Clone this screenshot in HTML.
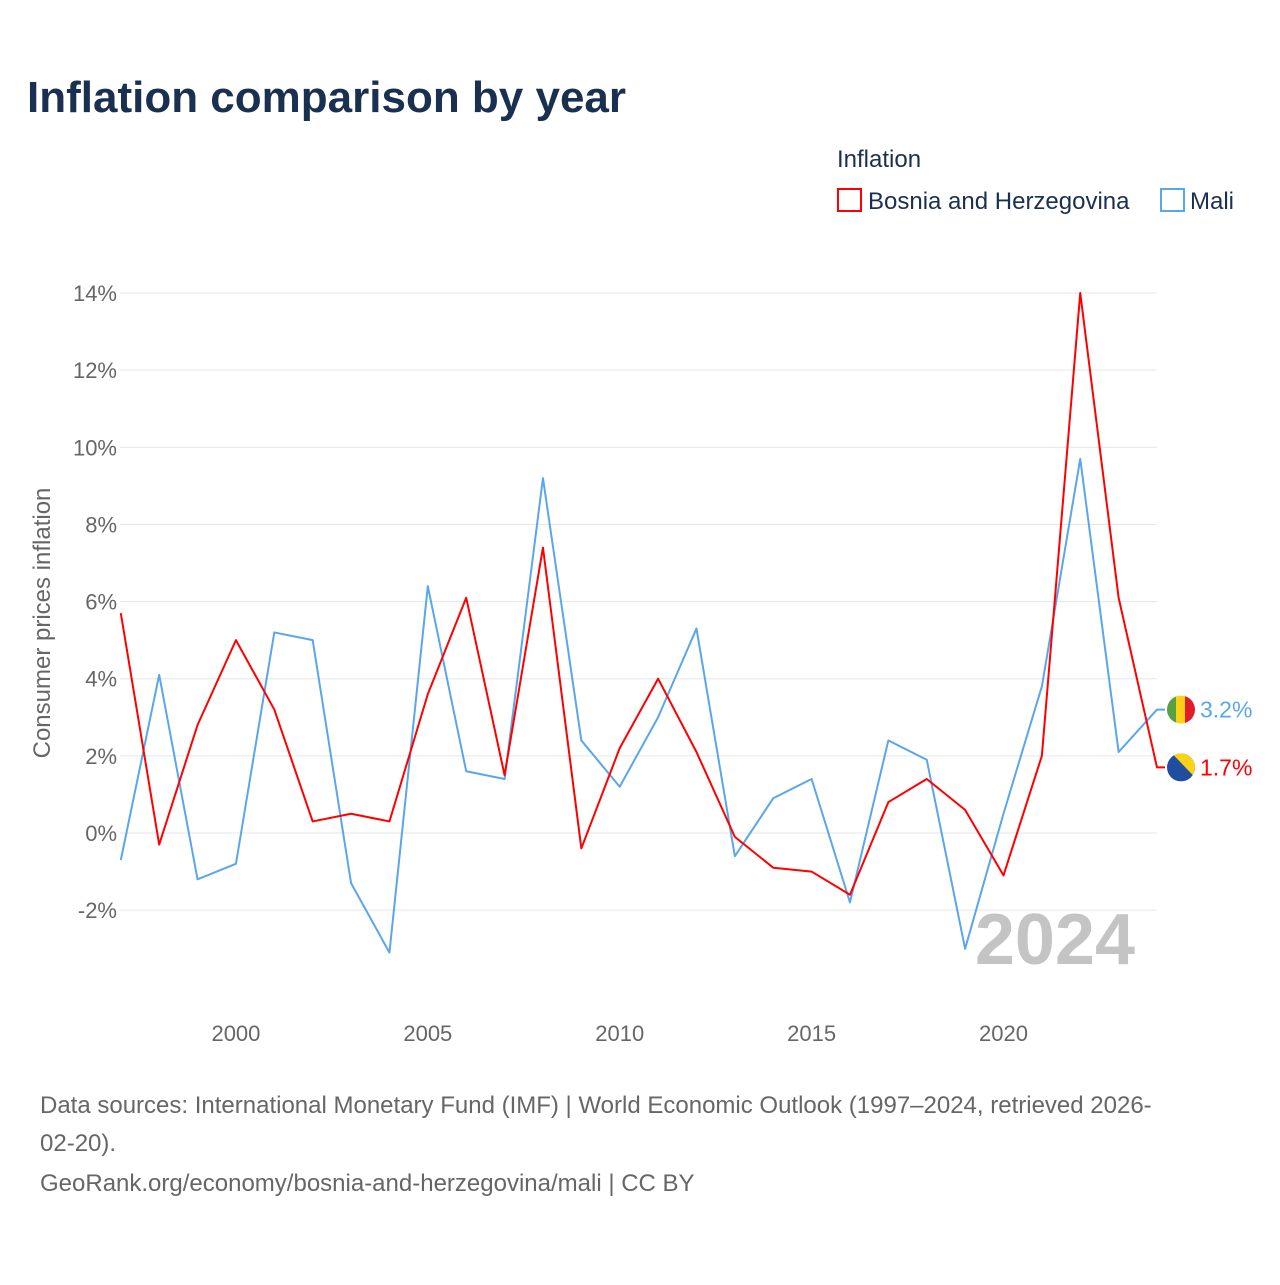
<!DOCTYPE html>
<html><head><meta charset="utf-8"><style>
body{margin:0;background:#fff;font-family:"Liberation Sans",sans-serif;}
svg text{font-family:"Liberation Sans",sans-serif;}
</style></head><body>
<svg id="c" width="1280" height="1280" viewBox="0 0 1280 1280">
<text x="27" y="112" font-size="44" font-weight="bold" fill="#1a3050">Inflation comparison by year</text>
<text x="837" y="167" font-size="24" fill="#1a3050">Inflation</text>
<g><rect x="838" y="189" width="23" height="22" fill="none" stroke="#f00" stroke-width="2"/><text x="868" y="209" font-size="24" fill="#1a3050">Bosnia and Herzegovina</text></g>
<g><rect x="1161" y="189" width="23" height="22" fill="none" stroke="#5ba6ea" stroke-width="2"/><text x="1190" y="209" font-size="24" fill="#1a3050">Mali</text></g>
<g id="grid"></g><g id="xt"></g><g id="lines"></g>
<text x="1135" y="964" font-size="72" font-weight="bold" fill="#c4c4c4" text-anchor="end">2024</text>
<text transform="translate(50,623) rotate(-90)" font-size="24" fill="#666" text-anchor="middle">Consumer prices inflation</text>
<g font-size="24" fill="#666">
<text x="40" y="1113">Data sources: International Monetary Fund (IMF) | World Economic Outlook (1997–2024, retrieved 2026-</text>
<text x="40" y="1151">02-20).</text>
<text x="40" y="1191">GeoRank.org/economy/bosnia-and-herzegovina/mali | CC BY</text></g>
</svg>
<script>
const years=[1997,1998,1999,2000,2001,2002,2003,2004,2005,2006,2007,2008,2009,2010,2011,2012,2013,2014,2015,2016,2017,2018,2019,2020,2021,2022,2023,2024];
const bosnia=[5.7,-0.3,2.8,5.0,3.2,0.3,0.5,0.3,3.6,6.1,1.5,7.4,-0.4,2.2,4.0,2.1,-0.1,-0.9,-1.0,-1.6,0.8,1.4,0.6,-1.1,2.0,14.0,6.1,1.7];
const mali=[-0.7,4.1,-1.2,-0.8,5.2,5.0,-1.3,-3.1,6.4,1.6,1.4,9.2,2.4,1.2,3.0,5.3,-0.6,0.9,1.4,-1.8,2.4,1.9,-3.0,0.5,3.8,9.7,2.1,3.2];
const yTicks=[-2,0,2,4,6,8,10,12,14];
const xTicks=[2000,2005,2010,2015,2020];
const NS="http://www.w3.org/2000/svg";
const X=y=>120.8+(y-1997)*(1157-120.8)/27;
const Y=v=>833-v*38.57;
function mk(t,a,p){const e=document.createElementNS(NS,t);for(const k in a)e.setAttribute(k,a[k]);p.appendChild(e);return e;}
const g=document.getElementById('grid');
yTicks.forEach(v=>{
 const l=mk('line',{x1:120,x2:1157,y1:Y(v),y2:Y(v),stroke:'#e6e6e6','stroke-width':1},g);
 
 
 const t=mk('text',{x:117,y:Y(v)+8,'font-size':22,fill:'#666','text-anchor':'end'},g);
 
 
 t.textContent=v+'%';
});
const xt=document.getElementById('xt');
xTicks.forEach(v=>{
 const t=mk('text',{x:X(v),y:1041,'font-size':22,fill:'#666','text-anchor':'middle'},xt);
 
 
 t.textContent=v;
});
const L=document.getElementById('lines');
function series(vals,col,name){
 const pts=vals.map((v,i)=>X(years[i])+','+Y(v)).join(' ');
 const ex=X(years[years.length-1]), ey=Y(vals[vals.length-1]);
 const p=mk('polyline',{points:pts+' '+(ex+8)+','+ey,fill:'none',stroke:col,'stroke-width':2,'stroke-linejoin':'round'},L);
 
 
 const cp=mk('clipPath',{id:'cp-'+name},L);
 mk('circle',{cx:1181,cy:ey,r:14},cp);
 const fg=mk('g',{'clip-path':'url(#cp-'+name+')'},L);
 
 
 if(name==='mali'){
  mk('rect',{x:1167,y:ey-14,width:10,height:28,fill:'#58a044'},fg);
  mk('rect',{x:1176,y:ey-14,width:10,height:28,fill:'#fcd116'},fg);
  mk('rect',{x:1185,y:ey-14,width:10,height:28,fill:'#e21d2a'},fg);
 } else {
  mk('rect',{x:1167,y:ey-14,width:28,height:28,fill:'#1f4ea0'},fg);
  mk('path',{d:`M1172,${ey-14} L1195,${ey-14} L1195,${ey+10}Z`,fill:'#fcd116'},fg);
 }
 const t=mk('text',{x:1200,y:ey+8,'font-size':23,fill:col},L);
 
 
 t.textContent=vals[vals.length-1].toFixed(1)+'%';
}
series(mali,'#5ba6ea','mali');
series(bosnia,'#ff0000','bosnia');
</script>
</body></html>
